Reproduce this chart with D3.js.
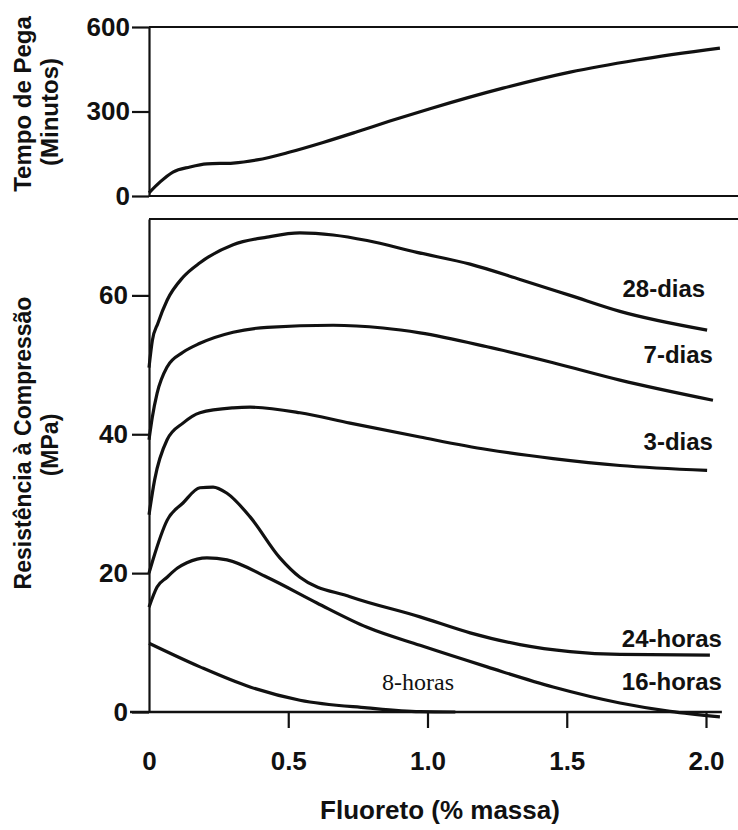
<!DOCTYPE html>
<html>

<head>
  <meta charset="utf-8">
  <title>Fluoreto: tempo de pega e resistência</title>
  <style>
    body { margin: 0; background: #fff; }
    svg text { font-family: "Liberation Sans", Arial, sans-serif; fill: #111; }
  </style>
</head>

<body>
  <svg width="738" height="830"></svg>
  <script src="https://d3js.org/d3.v7.min.js"></script>
  <script>
    // data: [fluoreto % massa, value]
    var fluoretoTicks = [0, 0.5, 1.0, 1.5, 2.0];
    var tempoTicks = [0, 300, 600];
    var resistTicks = [0, 20, 40, 60];

    var tempoPega = [[0, 11], [0.04, 50], [0.086, 85], [0.147, 103], [0.208, 114], [0.302, 117],
      [0.388, 128], [0.506, 156], [0.625, 190], [0.747, 228], [0.865, 266], [1.009, 310],
      [1.271, 383], [1.512, 440], [1.752, 483], [2.05, 525]];

    var dias28 = [[0, 49.6], [0.012, 53.5], [0.032, 56.0], [0.065, 59.3], [0.122, 62.6], [0.183, 64.7],
      [0.302, 67.3], [0.424, 68.4], [0.542, 69.0], [0.661, 68.7], [0.783, 67.9], [0.962, 66.2],
      [1.153, 64.5], [1.332, 62.3], [1.512, 60.0], [1.691, 57.7], [2.004, 55.0]];

    var dias7 = [[0, 39.2], [0.012, 42.5], [0.029, 45.9], [0.065, 49.7], [0.122, 51.8], [0.183, 53.1],
      [0.302, 54.7], [0.424, 55.4], [0.661, 55.7], [0.84, 55.3], [0.973, 54.6], [1.214, 52.6],
      [1.451, 50.3], [1.691, 47.8], [2.025, 44.9]];

    var dias3 = [[0, 28.4], [0.02, 33.4], [0.065, 39.2], [0.122, 41.6], [0.183, 43.1], [0.302, 43.8],
      [0.363, 43.9], [0.542, 43.1], [0.722, 41.6], [0.973, 39.6], [1.214, 37.8], [1.451, 36.5],
      [1.691, 35.5], [2.004, 34.8]];

    var horas24 = [[0, 20.0], [0.014, 21.9], [0.065, 27.6], [0.122, 30.1], [0.183, 32.3], [0.23, 32.4],
      [0.28, 31.5], [0.363, 28.1], [0.47, 22.2], [0.542, 19.4], [0.722, 16.6], [0.973, 13.7],
      [1.153, 11.4], [1.332, 9.7], [1.512, 8.7], [1.691, 8.3], [2.014, 8.2]];

    var horas16 = [[0, 15.1], [0.029, 18.0], [0.065, 19.4], [0.101, 20.7], [0.136, 21.5], [0.208, 22.2],
      [0.28, 21.9], [0.424, 19.4], [0.603, 15.7], [0.783, 12.2], [0.973, 9.6], [1.214, 6.5],
      [1.451, 3.6], [1.691, 1.3], [1.871, 0.1], [2.05, -0.7]];

    var horas8 = [[0, 9.9], [0.183, 6.5], [0.363, 3.6], [0.542, 1.7], [0.783, 0.6], [0.973, 0.05], [1.1, 0]];

    var resistSeries = [dias28, dias7, dias3, horas24, horas16, horas8];
    var seriesNames = ["28-dias", "7-dias", "3-dias", "24-horas", "16-horas", "8-horas"];
    // where each series name sits, in data units (x, baseline value)
    var labelX = [1.997, 2.025, 2.025, 2.057, 2.057, 0.837];
    var labelY = [59.8, 50.3, 37.7, 9.4, 3.2, 3.1];

    // 1. scales
    var svg = d3.select("svg");
    var W = 738;
    var x = d3.scaleLinear().domain([0, 2]).range([149, 706]);
    var yTop = d3.scaleLinear().domain([0, 600]).range([196, 27]);
    var yBot = d3.scaleLinear().domain([0, 71]).range([712, 219]);

    svg.append("rect").attr("width", W).attr("height", 830).attr("fill", "#fff");

    var ink = "#111";

    // 2. frames
    svg.append("line").attr("x1", x(0)).attr("x2", W).attr("y1", yTop(600)).attr("y2", yTop(600))
      .attr("stroke", ink).attr("stroke-width", 2.2);
    svg.append("line").attr("x1", x(0)).attr("x2", W).attr("y1", yTop(0)).attr("y2", yTop(0))
      .attr("stroke", ink).attr("stroke-width", 2.2);
    svg.append("line").attr("x1", x(0)).attr("x2", W).attr("y1", yBot(71)).attr("y2", yBot(71))
      .attr("stroke", ink).attr("stroke-width", 2.2);
    svg.append("line").attr("x1", x(0) - 19).attr("x2", x(2.057)).attr("y1", yBot(0)).attr("y2", yBot(0))
      .attr("stroke", ink).attr("stroke-width", 2.4);

    // 3. axes
    function styleAxis(g) {
      g.selectAll("path.domain").attr("stroke", ink).attr("stroke-width", 2.2);
      g.selectAll(".tick line").attr("stroke", ink).attr("stroke-width", 2.2);
      g.selectAll("text").attr("font-size", 26).attr("font-weight", "bold")
        .attr("font-family", "'Liberation Sans', Arial, sans-serif").attr("fill", ink);
    }

    svg.append("g").attr("transform", "translate(" + x(0) + ",0)")
      .call(d3.axisLeft(yTop).tickValues(tempoTicks).tickSize(17).tickSizeOuter(0).tickPadding(2))
      .call(styleAxis);

    svg.append("g").attr("transform", "translate(" + x(0) + ",0)")
      .call(d3.axisLeft(yBot).tickValues(resistTicks).tickSize(17).tickSizeOuter(0).tickPadding(4))
      .call(styleAxis);

    var xAxis = svg.append("g").attr("transform", "translate(0," + yBot(0) + ")")
      .call(d3.axisBottom(x).tickValues(fluoretoTicks).tickSize(16).tickPadding(24)
        .tickFormat(function (d) { return d === 0 ? "0" : d3.format(".1f")(d); }))
      .call(styleAxis);
    xAxis.select("path.domain").remove();
    xAxis.selectAll(".tick").filter(function (d) { return d === 0; }).select("line").remove();

    // 4. curves
    var lineTop = d3.line()
      .x(function (d) { return x(d[0]); })
      .y(function (d) { return yTop(d[1]); })
      .curve(d3.curveMonotoneX);

    var lineBot = d3.line()
      .x(function (d) { return x(d[0]); })
      .y(function (d) { return yBot(d[1]); })
      .curve(d3.curveMonotoneX);

    svg.append("path").datum(tempoPega).attr("d", lineTop)
      .attr("fill", "none").attr("stroke", ink).attr("stroke-width", 3.2);

    svg.selectAll(".serie").data(resistSeries).enter().append("path")
      .attr("class", "serie")
      .attr("d", lineBot)
      .attr("fill", "none").attr("stroke", ink).attr("stroke-width", 3.2)
      .attr("stroke-linejoin", "round");

    // 5. series names
    svg.selectAll(".nome").data(seriesNames).enter().append("text")
      .attr("class", "nome")
      .attr("x", function (d, i) { return x(labelX[i]); })
      .attr("y", function (d, i) { return yBot(labelY[i]); })
      .attr("text-anchor", function (d) { return d === "8-horas" ? "start" : "end"; })
      .attr("font-size", 24)
      .attr("font-weight", function (d) { return d === "8-horas" ? "normal" : "bold"; })
      .style("font-family", function (d) {
        return d === "8-horas" ? "'Liberation Serif', 'Times New Roman', serif" : null;
      })
      .text(function (d) { return d; });

    // 6. axis titles
    svg.append("text")
      .attr("x", 440).attr("y", 819)
      .attr("text-anchor", "middle").attr("font-size", 26).attr("font-weight", "bold")
      .text("Fluoreto (% massa)");

    var titles = [
      { t: "Tempo de Pega", cx: 31, cy: 104, s: 24 },
      { t: "(Minutos)", cx: 58, cy: 112, s: 24 },
      { t: "Resistência à Compressão", cx: 31, cy: 443, s: 23 },
      { t: "(MPa)", cx: 58, cy: 445, s: 23 }
    ];
    svg.selectAll(".titulo").data(titles).enter().append("text")
      .attr("class", "titulo")
      .attr("transform", function (d) { return "translate(" + d.cx + "," + d.cy + ") rotate(-90)"; })
      .attr("text-anchor", "middle")
      .attr("font-size", function (d) { return d.s; })
      .attr("font-weight", "bold")
      .text(function (d) { return d.t; });
  </script>
</body>

</html>
